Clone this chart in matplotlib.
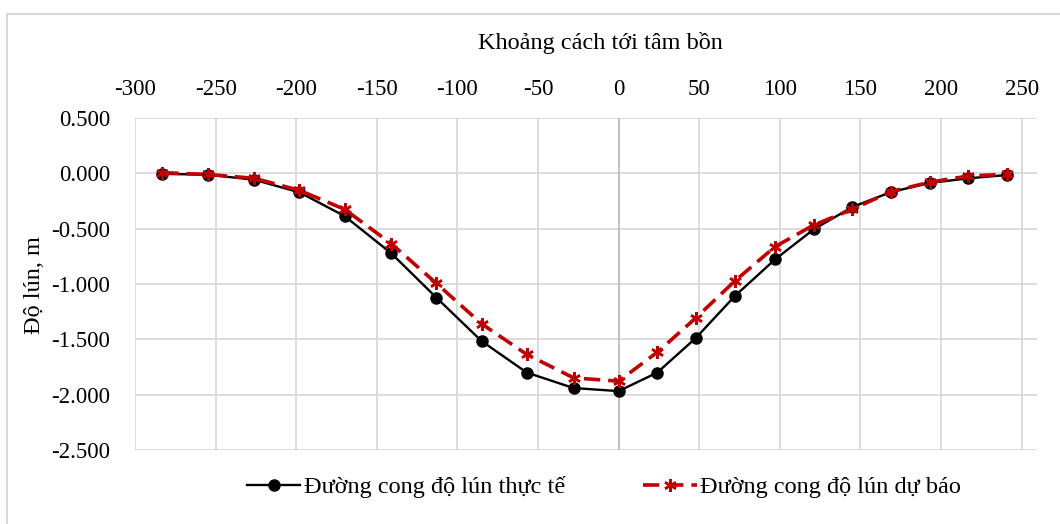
import matplotlib.pyplot as plt
from matplotlib.patches import Rectangle

plt.rcParams['font.family'] = ['Liberation Serif', 'DejaVu Serif']
plt.rcParams['axes.unicode_minus'] = False

# Khoảng cách tới tâm bồn (m)
khoang_cach = [-283, -255, -226, -198, -170, -141, -113, -85, -57, -28, 0,
               24, 48, 72, 97, 121, 145, 169, 193, 217, 241]
# Độ lún thực tế (m)
lun_thuc_te = [-0.005, -0.012, -0.058, -0.172, -0.386, -0.723, -1.124, -1.516, -1.800, -1.940, -1.968,
               -1.800, -1.486, -1.110, -0.778, -0.506, -0.304, -0.169, -0.087, -0.045, -0.015]
# Độ lún dự báo (m)
lun_du_bao = [0.006, -0.010, -0.045, -0.154, -0.325, -0.636, -0.995, -1.360, -1.636, -1.848, -1.878,
              -1.616, -1.305, -0.974, -0.663, -0.467, -0.325, -0.165, -0.080, -0.024, -0.009]

x_ticks = list(range(-300, 251, 50))
y_ticks = [0.5, 0.0, -0.5, -1.0, -1.5, -2.0, -2.5]

W, H = 1060, 524
fig = plt.figure(figsize=(W / 100, H / 100), dpi=100)
ax = fig.add_axes([135 / W, 1 - 450 / H, (1037 - 135) / W, (450 - 118) / H])

# chart border
fig.patches.append(Rectangle((7 / W, -0.1), 1.2, 1.1 - 14 / H, transform=fig.transFigure,
                             fill=False, edgecolor='#d9d9d9', linewidth=1.5))

ax.plot(khoang_cach, lun_thuc_te, color='black', linewidth=1.7, marker='o', markersize=8,
        label='Đường cong độ lún thực tế', zorder=3)
ax.plot(khoang_cach, lun_du_bao, color='#c00000', linewidth=2.6, linestyle=(0, (4.5, 2.2)),
        marker=(6, 2, 0), markersize=9, markeredgewidth=1.8,
        label='Đường cong độ lún dự báo', zorder=4)

ax.set_xlim(-300, 259.5)
ax.set_ylim(-2.5, 0.5)
ax.set_xticks(x_ticks)
ax.set_xticklabels([str(v) for v in x_ticks])
ax.set_yticks(y_ticks)
ax.set_yticklabels(['%.3f' % v for v in y_ticks])
ax.xaxis.tick_top()
ax.tick_params(axis='x', length=0, pad=13, labelsize=16.5)
ax.tick_params(axis='y', length=0, pad=18, labelsize=16.5)
ax.grid(True, color='#d9d9d9', linewidth=1.3)
ax.axvline(0, color='#bfbfbf', linewidth=1.3, zorder=1)
for s in ax.spines.values():
    s.set_visible(False)
ax.set_axisbelow(True)

fig.text(600 / W, 1 - 43 / H, 'Khoảng cách tới tâm bồn', ha='center', va='center', fontsize=17.5)
fig.text(35 / W, 1 - 285 / H, 'Độ lún, m', ha='center', va='center', rotation=90, fontsize=17.5)

fig.legend(loc='center', bbox_to_anchor=(604 / W, 1 - 487 / H), ncol=2, frameon=False,
           fontsize=17.5, handlelength=2.2, handletextpad=0.15, columnspacing=3.2)

fig.savefig('out.png', dpi=100)
